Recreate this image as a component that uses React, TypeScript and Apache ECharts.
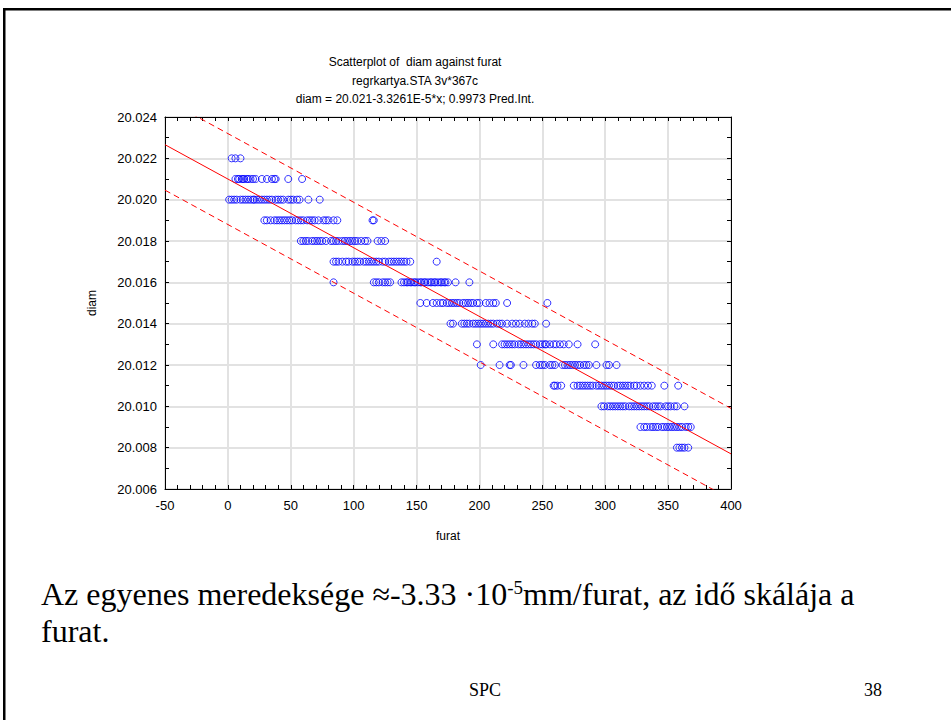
import React, { useEffect, useRef } from "react";
import * as echarts from "echarts";

// Tick / axis ranges
const xMin = -50;
const xMax = 400;
const xStep = 50;
const yMin = 20.006;
const yMax = 20.024;
const yStep = 0.002;

// Observations: furat values at each measured diam level
const levels = [20.022, 20.021, 20.02, 20.019, 20.018, 20.017, 20.016, 20.015, 20.014, 20.013, 20.012, 20.011, 20.01, 20.009, 20.008];
const furatAt22 = [3, 6, 10];
const furatAt21 = [6, 8, 9, 11, 12, 13, 15, 16, 18, 20, 22, 27, 31, 35, 37, 38, 48, 59];
const furatAt20 = [1, 3, 5, 7, 10, 12, 14, 16, 18, 20, 21, 23, 25, 27, 29, 31, 33, 35, 38, 40, 42, 44, 48, 50, 52, 55, 57, 64, 73];
const furatAt19 = [29, 31, 34, 37, 39, 41, 43, 45, 47, 49, 51, 54, 56, 58, 60, 63, 65, 67, 69, 72, 76, 78, 80, 84, 87, 115, 116];
const furatAt18 = [58, 60, 62, 64, 67, 69, 71, 73, 75, 78, 82, 84, 86, 88, 91, 93, 95, 97, 99, 101, 103, 106, 109, 111, 119, 122, 125];
const furatAt17 = [84, 86, 88, 91, 94, 96, 99, 101, 103, 105, 108, 110, 112, 114, 116, 118, 120, 123, 125, 128, 130, 132, 134, 136, 138, 140, 142, 145, 166];
const furatAt16 = [84, 116, 118, 120, 123, 125, 127, 129, 138, 140, 142, 143, 145, 146, 148, 149, 151, 153, 154, 156, 157, 159, 161, 162, 164, 165, 167, 169, 170, 172, 173, 175, 181, 192];
const furatAt15 = [153, 158, 163, 166, 169, 171, 174, 176, 178, 180, 182, 184, 187, 189, 191, 193, 195, 198, 200, 205, 208, 211, 213, 222, 254];
const furatAt14 = [177, 179, 186, 188, 190, 192, 195, 197, 199, 201, 203, 205, 207, 209, 211, 214, 216, 218, 222, 226, 229, 232, 236, 239, 242, 244, 253];
const furatAt13 = [198, 211, 218, 220, 222, 224, 226, 228, 231, 233, 235, 237, 239, 241, 243, 245, 248, 250, 252, 253, 256, 259, 261, 264, 267, 271, 278, 292];
const furatAt12 = [201, 216, 224, 225, 235, 245, 248, 250, 252, 256, 258, 260, 266, 268, 270, 272, 274, 276, 278, 280, 283, 285, 287, 293, 301, 303, 309];
const furatAt11 = [259, 260, 262, 265, 275, 278, 280, 282, 284, 286, 288, 290, 293, 295, 297, 299, 301, 303, 305, 307, 310, 312, 314, 316, 318, 320, 323, 325, 328, 331, 334, 337, 347, 358];
const furatAt10 = [297, 299, 302, 304, 306, 308, 310, 312, 314, 316, 319, 321, 323, 325, 327, 329, 331, 333, 335, 338, 340, 342, 344, 348, 350, 352, 355, 357, 363];
const furatAt09 = [328, 331, 333, 336, 338, 340, 342, 345, 347, 349, 351, 353, 355, 357, 359, 361, 364, 366, 368];
const furatAt08 = [357, 359, 361, 363, 366];
const furatByLevel = [furatAt22, furatAt21, furatAt20, furatAt19, furatAt18, furatAt17, furatAt16, furatAt15, furatAt14, furatAt13, furatAt12, furatAt11, furatAt10, furatAt09, furatAt08];

// Regression line and 0.9973 prediction interval (end points at x = -50 and 400)
const lineX = [-50, 400];
const fitY = [20.02266, 20.0077];
const upperY = [20.02486, 20.0099];
const lowerY = [20.02046, 20.0055];

const titleLines = [
  "Scatterplot of  diam against furat",
  "regrkartya.STA 3v*367c",
  "diam = 20.021-3.3261E-5*x; 0.9973 Pred.Int.",
];

const SANS = "'Liberation Sans', Arial, sans-serif";
const SERIF = "'Liberation Serif', 'Times New Roman', serif";

export default function App() {
  const ref = useRef<HTMLDivElement>(null);

  useEffect(() => {
    if (!ref.current) return;
    const chart = echarts.init(ref.current, undefined, { renderer: "svg" });

    const points: number[][] = [];
    levels.forEach((lv, i) => {
      furatByLevel[i].forEach((fx) => points.push([fx, lv]));
    });
    const pair = (ys: number[]) => lineX.map((x, i) => [x, ys[i]]);

    const gridLine = { show: true, lineStyle: { color: "#e2e2e2", width: 2 } };

    const option: any = {
      animation: false,
      backgroundColor: "#ffffff",
      grid: {
        left: 165,
        top: 117,
        width: 566,
        height: 372,
        show: true,
        borderColor: "#000",
        borderWidth: 1,
        backgroundColor: "transparent",
      },
      xAxis: [
        {
          type: "value",
          min: xMin,
          max: xMax,
          interval: xStep,
          position: "bottom",
          name: "furat",
          nameLocation: "middle",
          nameGap: 41,
          nameTextStyle: { fontFamily: SANS, fontSize: 12, color: "#000" },
          axisLine: { show: true, onZero: false, lineStyle: { color: "#000", width: 1 } },
          axisTick: { show: true, inside: true, length: 4, lineStyle: { color: "#000" } },
          minorTick: { show: true, splitNumber: 5, length: 4, lineStyle: { color: "#000" } },
          axisLabel: { fontFamily: SANS, fontSize: 13, color: "#000", margin: 10 },
          splitLine: gridLine,
        },
        {
          type: "value",
          min: xMin,
          max: xMax,
          interval: xStep,
          position: "top",
          axisLine: { show: true, onZero: false, lineStyle: { color: "#000", width: 1 } },
          axisTick: { show: true, inside: true, length: 4, lineStyle: { color: "#000" } },
          minorTick: { show: true, splitNumber: 5, length: 4, lineStyle: { color: "#000" } },
          axisLabel: { show: false },
          splitLine: { show: false },
        },
      ],
      yAxis: [
        {
          type: "value",
          min: yMin,
          max: yMax,
          interval: yStep,
          position: "left",
          name: "diam",
          nameLocation: "middle",
          nameGap: 67,
          nameRotate: 90,
          nameTextStyle: { fontFamily: SANS, fontSize: 12, color: "#000" },
          axisLine: { show: true, onZero: false, lineStyle: { color: "#000", width: 1 } },
          axisTick: { show: true, inside: true, length: 4, lineStyle: { color: "#000" } },
          minorTick: { show: true, splitNumber: 2, length: 4, lineStyle: { color: "#000" } },
          axisLabel: {
            fontFamily: SANS,
            fontSize: 13,
            color: "#000",
            margin: 8,
            formatter: (v: number) => v.toFixed(3),
          },
          splitLine: gridLine,
        },
        {
          type: "value",
          min: yMin,
          max: yMax,
          interval: yStep,
          position: "right",
          axisLine: { show: true, onZero: false, lineStyle: { color: "#000", width: 1 } },
          axisTick: { show: true, inside: true, length: 4, lineStyle: { color: "#000" } },
          minorTick: { show: true, splitNumber: 2, length: 4, lineStyle: { color: "#000" } },
          axisLabel: { show: false },
          splitLine: { show: false },
        },
      ],
      series: [
        {
          type: "scatter",
          xAxisIndex: 0,
          yAxisIndex: 0,
          data: points,
          symbol: "circle",
          symbolSize: 7,
          itemStyle: { color: "transparent", borderColor: "#0000ff", borderWidth: 1 },
          z: 3,
        },
        {
          type: "line",
          data: pair(fitY),
          showSymbol: false,
          symbol: "none",
          clip: true,
          lineStyle: { color: "#ff0000", width: 1 },
          z: 4,
        },
        {
          type: "line",
          data: pair(upperY),
          showSymbol: false,
          symbol: "none",
          clip: true,
          lineStyle: { color: "#ff0000", width: 1, type: [6, 4] },
          z: 4,
        },
        {
          type: "line",
          data: pair(lowerY),
          showSymbol: false,
          symbol: "none",
          clip: true,
          lineStyle: { color: "#ff0000", width: 1, type: [6, 4] },
          z: 4,
        },
      ],
      graphic: [
        // slide frame (top and left edges)
        { type: "rect", shape: { x: 3, y: 8, width: 948, height: 2.5 }, style: { fill: "#000" }, silent: true },
        { type: "rect", shape: { x: 3, y: 8, width: 2.5, height: 712 }, style: { fill: "#000" }, silent: true },
        ...titleLines.map((t, i) => ({
          type: "text",
          x: 415,
          y: 62 + i * 18.5,
          style: {
            text: t,
            fontFamily: SANS,
            fontSize: 12,
            fill: "#000",
            textAlign: "center",
            textVerticalAlign: "middle",
            align: "center",
            verticalAlign: "middle",
          },
        })),
        {
          type: "text",
          x: 41,
          y: 578,
          style: {
            text: "Az egyenes meredeksége ≈-3.33 ·10{s|-5}mm/furat, az idő skálája a",
            fontFamily: SERIF,
            fontSize: 32,
            fill: "#000",
            textAlign: "left",
            textVerticalAlign: "top",
            align: "left",
            verticalAlign: "top",
            rich: {
              s: { fontFamily: SERIF, fontSize: 19, fill: "#000", verticalAlign: "top" },
            },
          },
        },
        {
          type: "text",
          x: 41,
          y: 615,
          style: {
            text: "furat.",
            fontFamily: SERIF,
            fontSize: 32,
            fill: "#000",
            textAlign: "left",
            textVerticalAlign: "top",
            align: "left",
            verticalAlign: "top",
          },
        },
        {
          type: "text",
          x: 485,
          y: 690,
          style: {
            text: "SPC",
            fontFamily: SERIF,
            fontSize: 18,
            fill: "#000",
            textAlign: "center",
            textVerticalAlign: "middle",
            align: "center",
            verticalAlign: "middle",
          },
        },
        {
          type: "text",
          x: 873,
          y: 690,
          style: {
            text: "38",
            fontFamily: SERIF,
            fontSize: 18,
            fill: "#000",
            textAlign: "center",
            textVerticalAlign: "middle",
            align: "center",
            verticalAlign: "middle",
          },
        },
      ],
    };

    chart.setOption(option);
    return () => chart.dispose();
  }, []);

  return (
    <div
      ref={ref}
      style={{ position: "fixed", left: 0, top: 0, width: 951, height: 720, background: "#fff" }}
    />
  );
}
